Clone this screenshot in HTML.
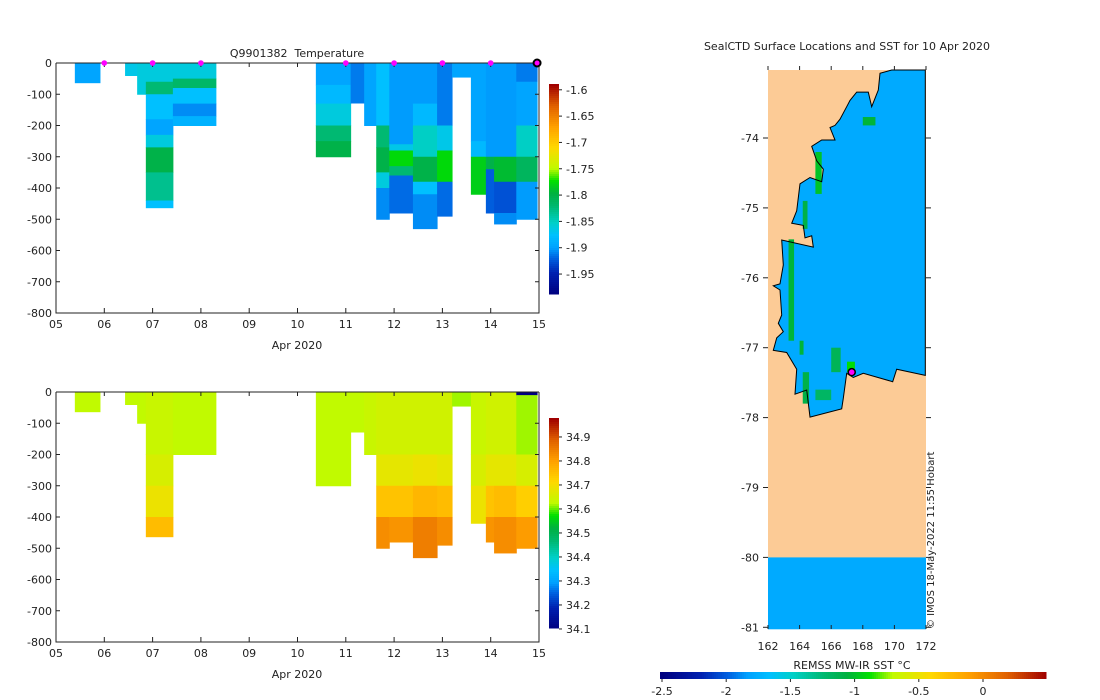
<!DOCTYPE html>
<html><head><meta charset="utf-8"><style>
body{margin:0;background:#fff;}
svg{display:block;font-family:"DejaVu Sans","Liberation Sans",sans-serif;font-size:11px;fill:#222}
</style></head><body>
<svg id="s" width="1100" height="700"></svg>
<script>
// ---- data ----
const castStart=[5.39,6.43,6.68,6.86,7.42,10.38,11.1,11.38,11.63,11.9,12.39,12.89,13.2,13.59,13.9,14.07,14.53];
const castEnd=[5.91,6.68,6.86,7.42,8.31,11.1,11.42,11.63,11.9,12.39,12.89,13.2,13.59,13.9,14.07,14.53,14.96];
const tempLayers=[
 [[63,-1.895]],
 [[40,-1.865]],
 [[100,-1.86]],
 [[60,-1.86],[100,-1.82],[180,-1.875],[230,-1.895],[270,-1.86],[350,-1.80],[440,-1.83],[463,-1.875]],
 [[50,-1.86],[80,-1.815],[130,-1.875],[170,-1.905],[200,-1.885]],
 [[70,-1.895],[130,-1.88],[200,-1.86],[250,-1.82],[300,-1.80]],
 [[128,-1.91]],
 [[200,-1.895]],
 [[200,-1.875],[270,-1.82],[350,-1.80],[400,-1.86],[500,-1.905]],
 [[260,-1.90],[280,-1.865],[330,-1.775],[360,-1.82],[480,-1.915]],
 [[130,-1.90],[200,-1.88],[300,-1.85],[380,-1.80],[420,-1.875],[530,-1.905]],
 [[200,-1.91],[280,-1.865],[380,-1.775],[490,-1.915]],
 [[45,-1.895]],
 [[250,-1.895],[300,-1.88],[420,-1.78]],
 [[300,-1.90],[340,-1.80],[480,-1.92]],
 [[300,-1.90],[380,-1.79],[480,-1.925],[515,-1.905]],
 [[60,-1.91],[200,-1.895],[300,-1.85],[380,-1.81],[500,-1.90]]
];
const salLayers=[
 [[63,34.63]],[[40,34.63]],[[100,34.63]],
 [[200,34.64],[300,34.66],[400,34.69],[463,34.76]],
 [[200,34.63]],
 [[300,34.63]],
 [[128,34.63]],[[200,34.64]],
 [[200,34.65],[300,34.68],[400,34.75],[500,34.83]],
 [[200,34.65],[300,34.68],[400,34.75],[480,34.82]],
 [[200,34.65],[300,34.69],[400,34.77],[530,34.85]],
 [[200,34.65],[300,34.68],[400,34.76],[490,34.83]],
 [[45,34.62]],
 [[200,34.64],[300,34.66],[420,34.69]],
 [[200,34.65],[300,34.68],[400,34.75],[480,34.82]],
 [[200,34.65],[300,34.68],[400,34.76],[515,34.83]],
 [[10,34.1],[200,34.62],[300,34.66],[400,34.73],[500,34.81]]
];
const markerDays=[6,7,8,11,12,13,14];
const xTicks=["05","06","07","08","09","10","11","12","13","14","15"];
const depthTicks=[0,-100,-200,-300,-400,-500,-600,-700,-800];
const tempCbTicks=[-1.6,-1.65,-1.7,-1.75,-1.8,-1.85,-1.9,-1.95];
const salCbTicks=[34.9,34.8,34.7,34.6,34.5,34.4,34.3,34.2,34.1];
const lonTicks=[162,164,166,168,170,172];
const latTicks=[-74,-75,-76,-77,-78,-79,-80,-81];
const sstTicks=[-2.5,-2,-1.5,-1,-0.5,0];
const sstPatches=[[163.3,-75.45,0.35,1.45,-1.05],[164.0,-76.9,0.25,0.2,-1.05],[164.2,-77.35,0.4,0.45,-1.1],[165.0,-77.6,1.0,0.15,-1.2],[166.0,-77.0,0.6,0.35,-1.15],[167.0,-77.2,0.5,0.15,-0.9],[165.0,-74.2,0.4,0.6,-1.0],[164.2,-74.9,0.3,0.4,-1.1],[168.0,-73.7,0.8,0.12,-1.05]];

// ---- helpers ----
const S=document.getElementById('s');const NS='http://www.w3.org/2000/svg';
function mk(t,a,p){const e=document.createElementNS(NS,t);for(const k in a)e.setAttribute(k,a[k]);(p||S).appendChild(e);return e;}
const stops=[[0,[0,0,128]],[0.1,[0,32,176]],[0.17,[0,96,224]],[0.22,[0,160,255]],[0.28,[0,192,255]],[0.34,[0,208,200]],[0.42,[0,184,112]],[0.48,[0,176,64]],[0.54,[0,224,0]],[0.6,[192,250,0]],[0.7,[255,216,0]],[0.8,[255,160,0]],[0.9,[224,96,0]],[1,[160,0,0]]];
function cmap(f){f=Math.max(0,Math.min(1,f));for(let i=1;i<stops.length;i++){if(f<=stops[i][0]){const a=stops[i-1],b=stops[i];const t=(f-a[0])/(b[0]-a[0]);const c=a[1].map((v,j)=>Math.round(v+(b[1][j]-v)*t));return `rgb(${c})`;}}return 'rgb(160,0,0)';}
const xDay=d=>56+(d-5)*48.3;

function panel(y0,layers,vmin,vmax,cbY0,cbY1,cbTicks,name,title){
  const yD=d=>y0+d*250/800;
  const g=mk('g',{});
  layers.forEach((L,i)=>{let prev=0;
    L.forEach(([dep,v])=>{const r=mk('rect',{x:xDay(castStart[i]),y:yD(prev),width:xDay(castEnd[i])-xDay(castStart[i])+0.5,height:yD(dep)-yD(prev)+0.5,fill:cmap((v-vmin)/(vmax-vmin))},g);
      
      
      prev=dep;});});
  mk('path',{d:`M56 ${y0}V${y0+250}H539V${y0}`,fill:'none',stroke:'#222','stroke-width':1},g);
  mk('line',{x1:56,y1:y0,x2:539,y2:y0,stroke:'#222'},g);
  xTicks.forEach((t,i)=>{const x=xDay(5+i);mk('line',{x1:x,y1:y0+250,x2:x,y2:y0+245,stroke:'#222'},g);mk('line',{x1:x,y1:y0,x2:x,y2:y0+4,stroke:'#222'},g);
    const tx=mk('text',{x:x,y:y0+265,'text-anchor':'middle'},g);tx.textContent=t;});
  const xl=mk('text',{x:297,y:y0+286,'text-anchor':'middle'},g);xl.textContent='Apr 2020';
  depthTicks.forEach(t=>{const y=yD(-t);mk('line',{x1:56,y1:y,x2:60,y2:y,stroke:'#222'},g);mk('line',{x1:539,y1:y,x2:535,y2:y,stroke:'#222'},g);
    const tx=mk('text',{x:52,y:y+4,'text-anchor':'end'},g);tx.textContent=t;});
  if(title){const tt=mk('text',{x:297,y:y0-6,'text-anchor':'middle'},g);tt.textContent=title;}
  const cb=mk('g',{},g);
  for(let y=cbY0;y<cbY1;y+=2){const f=(cbY1-y)/(cbY1-cbY0);mk('rect',{x:549,y:y,width:10,height:2.5,fill:cmap(f)},cb);}
  const cy=v=>cbY1-(v-vmin)/(vmax-vmin)*(cbY1-cbY0);
  cbTicks.forEach(t=>{const y=cy(t);mk('line',{x1:559,y1:y,x2:562,y2:y,stroke:'#222'},cb);const tx=mk('text',{x:566,y:y+4},cb);tx.textContent=t;});
  return yD;
}
panel(63,tempLayers,-1.986,-1.589,84,293,tempCbTicks,'temperature-panel','Q9901382\u00a0\u00a0Temperature');
panel(392,salLayers,34.104,34.979,418,628,salCbTicks,'salinity-panel',null);
markerDays.forEach(d=>{const c=mk('circle',{cx:xDay(d),cy:63,r:2.8,fill:'#ff00ff'});});
const lm=mk('circle',{cx:xDay(14.96),cy:63,r:3.5,fill:'#ff00ff',stroke:'#000','stroke-width':2});

// ---- map ----
const mx=lon=>768+(lon-162)*15.8;const my=lat=>138+(-74-lat)*69.9;
const mg=mk('g',{});
mk('rect',{x:768,y:70,width:158,height:559,fill:'#fccb96'},mg);
const cpts=[[725,72],[826,72],[826,805],[740,790],[728,820],[640,800],[610,810],[590,800],[580,860],[575,885],[480,905],[470,840],[435,850],[440,790],[410,750],[370,745],[380,715],[400,700],[385,680],[395,660],[390,600],[370,590],[390,585],[400,540],[395,480],[490,497],[485,470],[465,475],[460,445],[425,440],[440,410],[450,345],[480,330],[515,340],[520,310],[500,290],[485,255],[515,240],[555,240],[540,210],[555,205],[570,190],[590,160],[600,145],[620,125],[655,125],[665,160],[685,120],[690,80]];
const pd='M'+cpts.map(p=>(650+p[0]/3).toFixed(1)+' '+(40+p[1]/2.4).toFixed(1)).join('L')+'Z';
mk('path',{d:pd,fill:'#00aaff',stroke:'none'},mg);
const sv=(v)=>cmap((v+2.5)/2.98);
sstPatches.forEach(p=>{const r=mk('rect',{x:mx(p[0]),y:my(p[1]),width:p[2]*15.8,height:p[3]*69.9,fill:sv(p[4])},mg);});
mk('path',{d:pd,fill:'none',stroke:'#000','stroke-width':1},mg);
mk('rect',{x:768,y:my(-80),width:158,height:my(-81)-my(-80)+2,fill:'#00aaff'},mg);
const dot=mk('circle',{cx:mx(167.3),cy:my(-77.35),r:3.5,fill:'#ff00ff',stroke:'#000','stroke-width':1.5});
lonTicks.forEach(t=>{const x=mx(t);mk('line',{x1:x,y1:629,x2:x,y2:625,stroke:'#222'},mg);mk('line',{x1:x,y1:70,x2:x,y2:66,stroke:'#222'},mg);const tx=mk('text',{x:x,y:650,'text-anchor':'middle'},mg);tx.textContent=t;});
latTicks.forEach(t=>{const y=my(t);mk('line',{x1:763,y1:y,x2:768,y2:y,stroke:'#222'},mg);mk('line',{x1:926,y1:y,x2:931,y2:y,stroke:'#222'},mg);const tx=mk('text',{x:759,y:y+4,'text-anchor':'end'},mg);tx.textContent=t;});
const mt=mk('text',{x:847,y:50,'text-anchor':'middle'},mg);mt.textContent='SealCTD Surface Locations and SST for 10 Apr 2020';
const cr=mk('text',{x:0,y:0,transform:'translate(934,629) rotate(-90)','font-size':'10px'},mg);cr.textContent='© IMOS 18-May-2022 11:55 Hobart';
const st=mk('text',{x:852,y:669,'text-anchor':'middle'},mg);st.textContent='REMSS MW-IR SST °C';
const scx=v=>662+(v+2.5)*128.4;
for(let x=660;x<1045;x+=2){mk('rect',{x:x,y:672,width:2.5,height:7,fill:sv((x-662)/128.4-2.5)},mg);}
sstTicks.forEach(t=>{const x=scx(t);mk('line',{x1:x,y1:679,x2:x,y2:682,stroke:'#222'},mg);const tx=mk('text',{x:x,y:695,'text-anchor':'middle'},mg);tx.textContent=t;});
</script>
</body></html>
